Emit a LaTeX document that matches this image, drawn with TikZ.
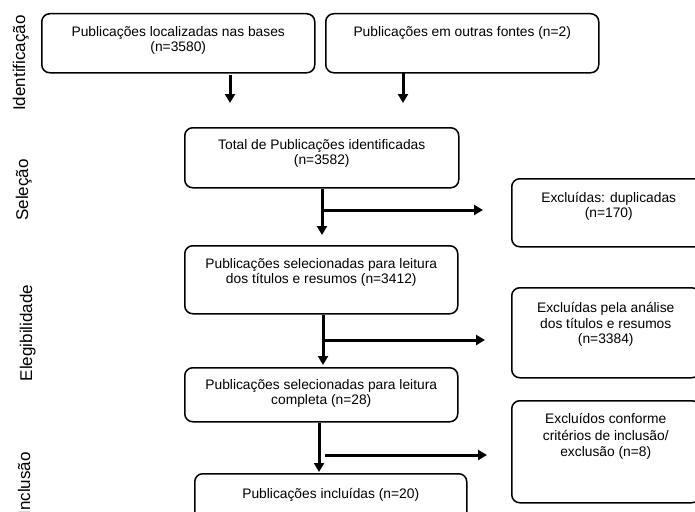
\documentclass[tikz,border=0pt]{standalone}
\usepackage{fontspec}
\setmainfont{Liberation Sans}
\usetikzlibrary{arrows.meta}
\tikzset{
  box/.style={draw, line width=1.5pt, rounded corners=8pt, inner sep=0pt, anchor=north west, font=\fontsize{13.8}{15}\selectfont},
  arr/.style={line width=3pt, -{Triangle[width=10pt,length=9pt]}},
  side/.style={rotate=90, anchor=base, inner sep=0pt, font=\fontsize{17}{20}\selectfont},
}
\newcommand\boxtext[4]{\parbox[c][#2pt][t]{#1pt}{\centering\rule{0pt}{#3pt}#4}}
\begin{document}
\begin{tikzpicture}[x=1pt, y=-1pt]
\useasboundingbox (0,0) rectangle (695,511);
% boxes
\node[box] (b1) at (41,13) {\boxtext{273}{59}{23}{Publicações localizadas nas bases\\(n=3580)}};
\node[box] (b2) at (325,13) {\boxtext{273}{59}{23}{Publicações em outras fontes (n=2)}};
\node[box] (b3) at (184,127) {\boxtext{274}{60}{22}{Total de Publicações identificadas\\(n=3582)}};
\node[box] (b4) at (184,245) {\boxtext{273}{68}{23}{Publicações selecionadas para leitura\\dos títulos e resumos (n=3412)}};
\node[box] (b5) at (184,367) {\boxtext{273}{54}{22}{Publicações selecionadas para leitura\\completa (n=28)}};
\node[box] (b6) at (194,473) {\boxtext{272}{60}{25}{Publicações incluídas (n=20)}};
\node[box] (e1) at (511,178) {\boxtext{194}{68}{24}{Excluídas: duplicadas\\(n=170)}};
\node[box, font=\fontsize{13.8}{15.5}\selectfont] (e2) at (511,287) {\boxtext{188}{90}{25}{Excluídas pela análise\\dos títulos e resumos\\(n=3384)}};
\node[box, font=\fontsize{13.8}{16.5}\selectfont] (e3) at (511,400) {\boxtext{188}{102}{23}{Excluídos conforme\\critérios de inclusão/\\exclusão (n=8)}};
% side labels
\node[side] (l1) at (25,63) {Identificação};
\node[side] (l2) at (28,190) {Seleção};
\node[side] (l3) at (32,333) {Elegibilidade};
\node[side] (l4) at (30,484) {Inclusão};
% connector end points
\coordinate (a1s) at (230,75);  \coordinate (a1e) at (230,103);
\coordinate (a2s) at (403,72);  \coordinate (a2e) at (403,103);
\coordinate (a3s) at (322,189); \coordinate (a3e) at (322,235);
\coordinate (j3) at (322,210);  \coordinate (h3) at (483,210);
\coordinate (a4s) at (323,315); \coordinate (a4e) at (323,365);
\coordinate (j4) at (323,340);  \coordinate (h4) at (485,340);
\coordinate (a5s) at (319,423); \coordinate (a5e) at (319,472);
\coordinate (j5) at (325,455);  \coordinate (h5) at (487,455);
% connectors
\draw[arr] (a1s) -- (a1e);
\draw[arr] (a2s) -- (a2e);
\draw[arr] (a3s) -- (a3e);
\draw[arr] (j3) -- (h3);
\draw[arr] (a4s) -- (a4e);
\draw[arr] (j4) -- (h4);
\draw[arr] (a5s) -- (a5e);
\draw[arr] (j5) -- (h5);
\end{tikzpicture}
\end{document}
